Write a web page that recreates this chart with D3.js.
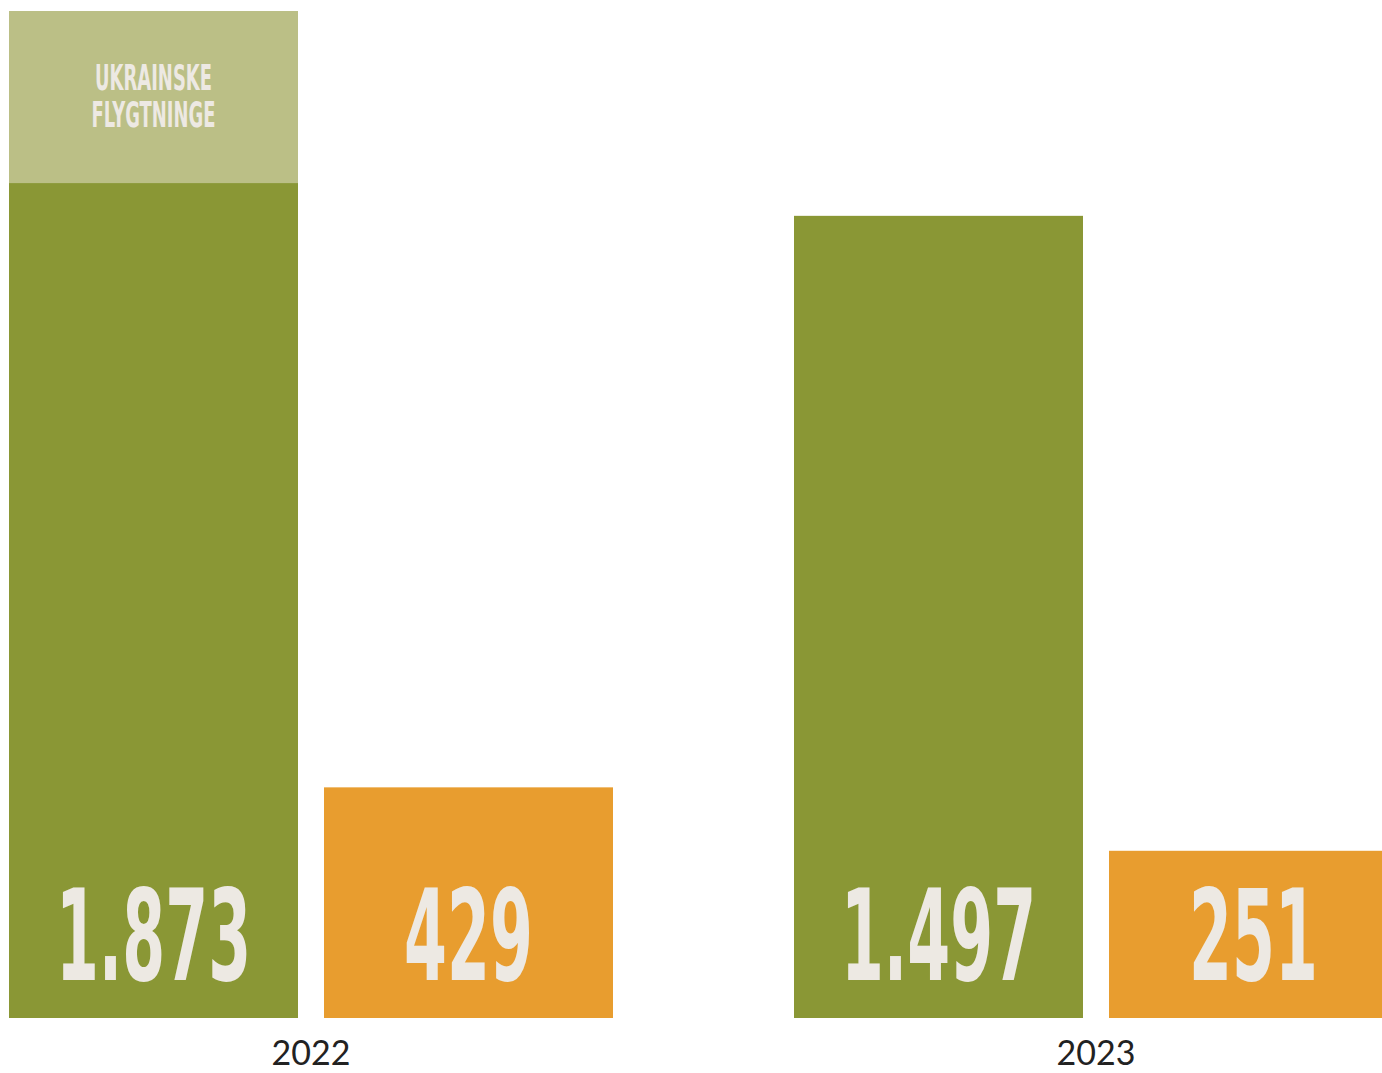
<!DOCTYPE html>
<html>
<head>
<meta charset="utf-8">
<script src="https://cdn.jsdelivr.net/npm/d3@7"></script>
<style>
	body { margin: 0; background: #fff; }
	svg { display: block; }
</style>
</head>
<body>
<svg id="chart"></svg>
<script>
/* eslint-disable no-var, no-undef */

// data
var years = [ '2022', '2023' ];
var seriesKeys = [ 'green', 'orange' ];
var greenValues = [ 1553, 1492 ];
var ukraineValues = [ 320, 0 ];
var orangeValues = [ 429, 311 ];
var valueLabels = [ [ '1.873', '429' ], [ '1.497', '251' ] ];
var ukraineLabel = [ 'UKRAINSKE', 'FLYGTNINGE' ];

var colors = { green: '#8a9735', light: '#bbbf86', orange: '#e89d2f', text: '#ede9e3' };

var svg = d3.select( document.getElementById( 'chart' ) )
	.attr( 'width', 1382 )
	.attr( 'height', 1073 );

var margin = { top: 11, left: 9, bottom: 55 };
var baseline = 1073 - margin.bottom;
var condenseBig = 0.54;
var condenseSmall = 0.57;
var labelFont = '"Liberation Sans Narrow", "DejaVu Sans Condensed", sans-serif';

// group scale runs past the window edge, like the original
var x0 = d3.scaleBand()
	.domain( years )
	.range( [ margin.left, 1398 ] )
	.paddingInner( 181 / 785 )
	.paddingOuter( 0 );

var x1 = d3.scaleBand()
	.domain( seriesKeys )
	.range( [ 0, x0.bandwidth() ] )
	.paddingInner( 26 / 315 );

var y = d3.scaleLinear()
	.domain( [ 0, greenValues[ 0 ] + ukraineValues[ 0 ] ] )
	.range( [ baseline, margin.top ] );

var rows = years.map( function( year, i ) {
	return {
		year: year,
		green: greenValues[ i ],
		ukraine: ukraineValues[ i ],
		orange: orangeValues[ i ],
		labels: valueLabels[ i ]
	};
} );

var groups = svg.selectAll( 'g.year' )
	.data( rows )
	.enter()
	.append( 'g' )
	.attr( 'class', 'year' )
	.attr( 'transform', function( d ) {
		return 'translate(' + x0( d.year ) + ',0)';
	} );

// green bars, with the ukrainian part stacked on top
groups.append( 'rect' )
	.attr( 'x', x1( 'green' ) )
	.attr( 'width', x1.bandwidth() )
	.attr( 'y', function( d ) {
		return y( d.green );
	} )
	.attr( 'height', function( d ) {
		return baseline - y( d.green );
	} )
	.attr( 'fill', colors.green );

groups.filter( function( d ) {
	return d.ukraine > 0;
} )
	.append( 'rect' )
	.attr( 'x', x1( 'green' ) )
	.attr( 'width', x1.bandwidth() )
	.attr( 'y', function( d ) {
		return y( d.green + d.ukraine );
	} )
	.attr( 'height', function( d ) {
		return y( d.green ) - y( d.green + d.ukraine );
	} )
	.attr( 'fill', colors.light );

groups.append( 'rect' )
	.attr( 'x', x1( 'orange' ) )
	.attr( 'width', x1.bandwidth() )
	.attr( 'y', function( d ) {
		return y( d.orange );
	} )
	.attr( 'height', function( d ) {
		return baseline - y( d.orange );
	} )
	.attr( 'fill', colors.orange );

// big value labels, condensed horizontally
seriesKeys.forEach( function( key, k ) {
	groups.append( 'g' )
		.attr( 'transform', 'translate(' + ( x1( key ) + x1.bandwidth() / 2 ) + ',' + ( baseline - 38 ) + ') scale(' + condenseBig + ',1)' )
		.append( 'text' )
		.attr( 'text-anchor', 'middle' )
		.attr( 'font-family', labelFont )
		.attr( 'font-weight', 'bold' )
		.attr( 'font-size', 127 )
		.attr( 'fill', colors.text )
		.text( function( d ) {
			return d.labels[ k ];
		} );
} );

// label inside the ukrainian segment
var uk = groups.filter( function( d ) {
	return d.ukraine > 0;
} );
ukraineLabel.forEach( function( line, i ) {
	uk.append( 'g' )
		.attr( 'transform', function( d ) {
			var top = y( d.green + d.ukraine );
			return 'translate(' + ( x1( 'green' ) + x1.bandwidth() / 2 ) + ',' + ( top + 79 + i * 37 ) + ') scale(' + condenseSmall + ',1)';
		} )
		.append( 'text' )
		.attr( 'text-anchor', 'middle' )
		.attr( 'font-family', labelFont )
		.attr( 'font-weight', 'bold' )
		.attr( 'font-size', 35 )
		.attr( 'fill', colors.text )
		.text( line );
} );

// year axis, no line or ticks
var axis = svg.append( 'g' )
	.attr( 'transform', 'translate(0,' + baseline + ')' )
	.call( d3.axisBottom( x0 ).tickSize( 0 ).tickPadding( 23 ) );
axis.select( '.domain' ).remove();
axis.selectAll( 'text' )
	.attr( 'font-family', 'Lato, sans-serif' )
	.attr( 'font-size', 34 )
	.attr( 'fill', '#222' );
</script>
</body>
</html>
